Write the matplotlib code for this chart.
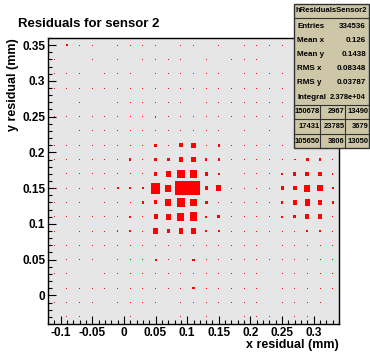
import matplotlib
matplotlib.use("Agg")
import matplotlib.pyplot as plt
from matplotlib.patches import Rectangle
from matplotlib.ticker import MultipleLocator, FuncFormatter
import numpy as np

plt.rcParams["font.family"] = ["Liberation Sans", "DejaVu Sans"]
plt.rcParams["font.weight"] = "bold"

# Histogram binning (x: 23 bins, y: 20 bins, width 0.02 mm)
X_EDGES = np.linspace(-0.12, 0.34, 24)
Y_EDGES = np.linspace(-0.04, 0.36, 21)

# Relative bin content (max = 100), rows from top (y=0.35) to bottom (y=-0.03)
counts = [
    [0, 16, 1, 1, 0, 1, 1, 1, 1, 0, 1, 1, 0, 1, 0, 1, 1, 1, 1, 0, 0, 0, 0],
    [1, 0, 0, 1, 0, 1, 0, 1, 1, 1, 1, 0, 1, 0, 1, 1, 1, 0, 0, 0, 0, 0, 0],
    [1, 1, 1, 0, 1, 1, 1, 0, 1, 1, 1, 1, 1, 1, 0, 1, 1, 1, 1, 0, 0, 0, 0],
    [1, 1, 1, 1, 1, 1, 1, 1, 1, 1, 1, 1, 1, 1, 1, 1, 1, 1, 1, 0, 0, 0, 0],
    [0, 0, 1, 0, 0, 1, 1, 1, 1, 1, 1, 0, 1, 1, 1, 1, 1, 1, 1, 0, 0, 0, 0],
    [1, 3, 1, 1, 1, 1, 1, 1, 12, 1, 1, 3, 1, 1, 1, 1, 1, 1, 1, 0, 0, 0, 0],
    [0, 0, 1, 1, 1, 1, 1, 1, 1, 1, 1, 1, 1, 1, 0, 1, 0, 1, 0, 0, 0, 0, 0],
    [1, 1, 1, 1, 1, 1, 1, 1, 21, 10, 28, 32, 1, 18, 1, 1, 1, 1, 1, 0, 0, 0, 0],
    [1, 1, 1, 1, 1, 1, 16, 1, 24, 24, 36, 32, 16, 16, 1, 1, 1, 1, 3, 13, 21, 19, 1],
    [0, 1, 1, 1, 1, 1, 1, 3, 24, 40, 60, 55, 24, 16, 0, 1, 1, 1, 13, 28, 32, 30, 13],
    [1, 1, 1, 1, 1, 16, 16, 16, 75, 47, 95, 100, 24, 40, 1, 1, 3, 1, 24, 32, 47, 42, 16],
    [1, 1, 1, 0, 1, 1, 1, 18, 28, 47, 66, 55, 24, 1, 1, 1, 1, 1, 16, 32, 44, 36, 16],
    [1, 1, 1, 1, 1, 1, 16, 8, 32, 40, 55, 63, 16, 24, 1, 1, 1, 1, 16, 24, 32, 32, 1],
    [1, 0, 1, 1, 1, 8, 16, 1, 40, 24, 36, 47, 16, 18, 1, 1, 4, 1, 4, 4, 16, 16, 1],
    [1, 1, 1, 1, 1, 1, 1, 1, 1, 1, 1, 1, 1, 1, 1, 1, 1, 0, 1, 1, 1, 1, 1],
    [0, 1, 1, 1, 0, 1, 1, 1, 16, 1, 1, 16, 1, 4, 1, 1, 1, 1, 1, 1, 1, 1, 1],
    [1, 1, 0, 0, 1, 1, 1, 1, 1, 1, 1, 1, 1, 1, 1, 1, 1, 0, 1, 1, 1, 1, 1],
    [0, 1, 1, 1, 1, 1, 1, 1, 1, 1, 1, 16, 1, 1, 1, 1, 1, 0, 1, 1, 1, 1, 1],
    [1, 1, 1, 1, 0, 1, 1, 1, 1, 0, 1, 1, 1, 1, 1, 1, 1, 0, 1, 1, 1, 1, 0],
    [0, 1, 1, 0, 0, 0, 1, 0, 0, 0, 1, 0, 1, 0, 0, 1, 1, 1, 0, 1, 1, 0, 0],
]

stats_labels = ["Entries", "Mean x", "Mean y", "RMS x", "RMS y", "Integral"]
stats_values = ["334536", "0.126", "0.1438", "0.08348", "0.03787", "2.378e+04"]
overflow_grid = [
    ["150678", "2967", "13490"],
    ["17431", "23785", "3679"],
    ["105650", "3806", "13050"],
]

W, H = 370, 352
fig = plt.figure(figsize=(W / 100, H / 100), dpi=100)
fig.patch.set_facecolor("white")
ax = fig.add_axes([48 / W, 1 - 324 / H, (339 - 48) / W, (324 - 38) / H])
ax.set_facecolor("#e6e6e6")

# boxes: side proportional to content
z = np.array(counts, dtype=float)[::-1]  # bottom row first
xc = 0.5 * (X_EDGES[:-1] + X_EDGES[1:])
yc = 0.5 * (Y_EDGES[:-1] + Y_EDGES[1:])
bw_x = X_EDGES[1] - X_EDGES[0]
bw_y = Y_EDGES[1] - Y_EDGES[0]
px_x = (X_EDGES[-1] - X_EDGES[0]) / 291.0
px_y = (Y_EDGES[-1] - Y_EDGES[0]) / 286.0
zmax = z.max()
jj, ii = np.nonzero(z)
frac = z[jj, ii] / zmax
ws = np.maximum(frac * bw_x, 1.0 * px_x)
hs = np.maximum(frac * bw_y, 1.0 * px_y)
ax.bar(xc[ii], hs, width=ws, bottom=yc[jj] - hs / 2, color="red",
       linewidth=0, antialiased=False, zorder=2)

ax.set_xlim(X_EDGES[0], X_EDGES[-1])
ax.set_ylim(Y_EDGES[0], Y_EDGES[-1])

fmt = FuncFormatter(lambda v, p: "%g" % round(v, 3))
ax.xaxis.set_major_locator(MultipleLocator(0.05))
ax.xaxis.set_minor_locator(MultipleLocator(0.01))
ax.yaxis.set_major_locator(MultipleLocator(0.05))
ax.yaxis.set_minor_locator(MultipleLocator(0.01))
ax.xaxis.set_major_formatter(fmt)
ax.yaxis.set_major_formatter(fmt)
ax.tick_params(which="both", direction="in", top=False, right=False,
               width=0.8, color="black", labelsize=8.5)
ax.tick_params(which="major", length=6)
ax.tick_params(which="minor", length=3)
ax.tick_params(axis="x", pad=2)
ax.tick_params(axis="y", pad=2)
for s in ax.spines.values():
    s.set_linewidth(1.0)

ax.set_xlabel("x residual (mm)", loc="right", fontsize=9, fontweight="bold", labelpad=0)
ax.set_ylabel("y residual (mm)", loc="top", fontsize=9, fontweight="bold", labelpad=2)

fig.text(18 / W, 1 - 24 / H, "Residuals for sensor 2", fontsize=9.5,
         fontweight="bold", ha="left", va="center")

# stats box
def fx(p):
    return p / W


def fy(p):
    return 1 - p / H


box_l, box_r, box_t, box_b = 294, 369, 4, 148
fig.patches.append(Rectangle((fx(box_l), fy(box_b)), fx(box_r) - fx(box_l),
                             fy(box_t) - fy(box_b), transform=fig.transFigure,
                             facecolor="#cdc7a7", edgecolor="#333333",
                             linewidth=1.0, zorder=10))
line_kw = dict(color="#333333", linewidth=0.8, zorder=11)
for yy in [18, 105, 119, 134]:
    fig.add_artist(plt.Line2D([fx(box_l), fx(box_r)], [fy(yy), fy(yy)],
                              transform=fig.transFigure, **line_kw))
for xx in [320, 345]:
    fig.add_artist(plt.Line2D([fx(xx), fx(xx)], [fy(105), fy(box_b)],
                              transform=fig.transFigure, **line_kw))

fs = 5.8
fig.text(fx(331.5), fy(11), "hResidualsSensor2", fontsize=5.6, fontweight="bold",
         ha="center", va="center", zorder=12)
row_y = [26, 41, 55, 69, 83, 98]
for lab, val, yy in zip(stats_labels, stats_values, row_y):
    fig.text(fx(297), fy(yy), lab, fontsize=fs, fontweight="bold",
             ha="left", va="center", zorder=12)
    fig.text(fx(366), fy(yy), val, fontsize=fs if len(val) < 8 else 5.4,
             fontweight="bold", ha="right", va="center", zorder=12)
grid_y = [112, 126, 141]
grid_x = [319.5, 344.5, 368.5]
for row, yy in zip(overflow_grid, grid_y):
    for val, xx in zip(row, grid_x):
        fig.text(fx(xx), fy(yy), val, fontsize=5.4, fontweight="bold",
                 ha="right", va="center", zorder=12)

fig.savefig("out.png", dpi=100)
